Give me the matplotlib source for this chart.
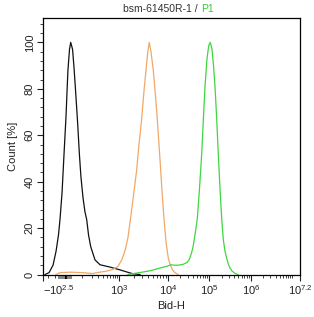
import numpy as np
import matplotlib
matplotlib.use("Agg")
import matplotlib.pyplot as plt
from matplotlib.patches import Rectangle
import matplotlib.transforms as mtransforms

plt.rcParams['font.family'] = ['Liberation Sans', 'DejaVu Sans']
plt.rcParams['mathtext.fontset'] = 'custom'
plt.rcParams['mathtext.rm'] = 'Liberation Sans'
plt.rcParams['mathtext.default'] = 'regular'

# --- data (Bid-H intensity, count %) ---
ctrl_x = [-265, -186, -126, -90, -65, -51, -33, -16, 0, 7, 11, 20, 27, 38, 47, 56, 70, 83,
          95, 112, 129, 146, 165, 190, 248, 335, 598, 1048, 1390, 1930, 2680]
ctrl_y = [0, 0.8, 4, 10, 17, 23.6, 35, 52, 68, 81, 88, 97, 100, 97, 89, 80, 66, 52,
          42, 33, 27, 23.6, 17, 12, 6.3, 4.2, 3.2, 2.0, 1.2, 0.3, 0]

iso_x = [-90, -51, 23, 112, 206, 335, 504, 710, 945, 1151, 1357, 1527, 1717, 1976, 2297,
         2560, 2906, 3237, 3556, 3870, 4153, 4499, 5012, 5557, 6047, 6551, 7096, 7649,
         8286, 9104, 10170, 11190, 12880, 14810, 17530]
iso_y = [0, 0.8, 1.0, 0.8, 0.4, 1.0, 1.5, 2.2, 3.5, 6.5, 11, 16, 24, 34, 45,
         56, 67, 79, 88, 96, 100, 96, 88, 77, 67, 56, 45, 34,
         24, 14, 7, 4.5, 2, 0.8, 0]

p1_x = [1527, 2121, 2948, 4292, 5689, 7437, 9408, 11640, 14010, 17530, 23620, 29070, 33080,
        37840, 41410, 46340, 51840, 58650, 66370, 73430, 79890, 89380, 98330, 107400,
        117900, 128000, 139000, 152500, 166500, 182800, 200700, 219100, 240400, 263900,
        288100, 316200, 352900, 415900, 490400]
p1_y = [0, 0.5, 1.0, 1.6, 2.3, 3.0, 3.5, 4.2, 4.0, 4.0, 4.4, 5.2, 6.5,
        9.5, 12.5, 18, 24, 37, 52, 68, 81, 93, 98.5, 100,
        97, 90, 81, 67, 52, 37, 24, 15, 10, 7,
        4.5, 2.8, 1.5, 0.5, 0]

# --- biexponential-like display scale ---
LN10 = np.log(10)
anchor_vals = np.array([-10**2.5, 0, 1e3, 1e4, 1e5, 1e6, 10**7.2])
anchor_pos = np.array([0, 23, 76, 125, 166, 208, 257])


def biex(v):
    return np.arcsinh(np.asarray(v, dtype=float) / 100.0) / LN10


anchor_b = biex(anchor_vals)


def fwd(v):
    return np.interp(biex(v), anchor_b, anchor_pos)


def inv(p):
    b = np.interp(p, anchor_pos, anchor_b)
    return 100.0 * np.sinh(b * LN10)


fig = plt.figure(figsize=(3.14, 3.17), dpi=100)
ax = fig.add_axes([43 / 314, 42.5 / 317, 257 / 314, 256.5 / 317])
ax.set_xscale('function', functions=(fwd, inv))

ax.plot(ctrl_x, ctrl_y, color='#111111', lw=0.9)
ax.plot(iso_x, iso_y, color='#f0a868', lw=0.9)
ax.plot(p1_x, p1_y, color='#3fd63f', lw=0.9)

ax.set_xlim(-10**2.5, 10**7.2)
ax.set_ylim(0, 110.5)

major_x = [-10**2.5, 1e3, 1e4, 1e5, 1e6, 10**7.2]
major_lbl = ['$-10^{2.5}$', '$10^{3}$', '$10^{4}$', '$10^{5}$', '$10^{6}$', '$10^{7.2}$']
minor_x = [-200, -100, 0] + list(range(100, 1000, 100))
for dec in [1e3, 1e4, 1e5, 1e6]:
    minor_x += [k * dec for k in range(2, 10)]
minor_x += [1e7]
ax.set_xticks(major_x)
ax.set_xticklabels(major_lbl)
ax.set_xticks(minor_x, minor=True)
ax.get_xticklabels()[0].set_horizontalalignment('left')

ax.set_yticks(range(0, 101, 20))
ax.set_yticks([v for v in range(0, 110, 4) if v % 20 != 0], minor=True)
for lbl in ax.get_yticklabels():
    lbl.set_rotation(90)
    lbl.set_verticalalignment('center')

ax.tick_params(which='major', length=4, width=0.8, labelsize=8, pad=2, colors='#222222')
ax.tick_params(which='minor', length=2, width=0.6, colors='#222222')
for s in ax.spines.values():
    s.set_linewidth(0.9)

ax.set_xlabel('Bid-H', fontsize=8, color='#222222', labelpad=3)
ax.set_ylabel('Count [%]', fontsize=8, color='#222222', labelpad=5)

# zero marker below the axis
trans = mtransforms.blended_transform_factory(ax.transData, ax.transAxes)
ax.add_patch(Rectangle((-65, -0.016), 100, 0.012, transform=trans,
                       color='#888888', clip_on=False, lw=0))
ax.add_patch(Rectangle((-8, -0.016), 16, 0.012, transform=trans,
                       color='#000000', clip_on=False, lw=0))

# title with coloured gate name
fig.text(0.64, 0.972, 'bsm-61450R-1 / ', ha='right', va='center', fontsize=7.5, color='#333333')
fig.text(0.64, 0.972, 'P1', ha='left', va='center', fontsize=7.5, color='#33cc33')

fig.savefig('out.png', dpi=100)
